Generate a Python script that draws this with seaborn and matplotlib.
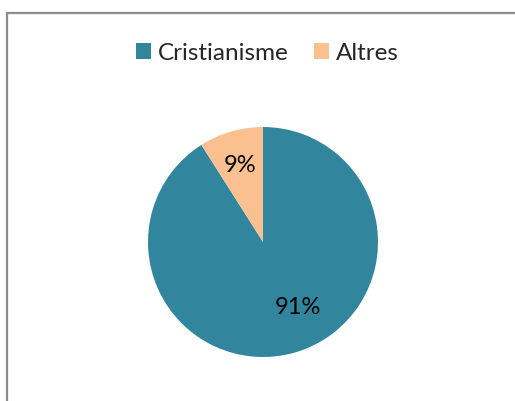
import matplotlib
matplotlib.use("Agg")
import matplotlib.pyplot as plt
import seaborn as sns
from matplotlib.patches import Rectangle

categories = ["Cristianisme", "Altres"]
values = [91, 9]
colors = ["#31859C", "#FAC090"]

sns.set_theme(style="white")
plt.rcParams['font.family'] = ['Lato', 'DejaVu Sans']

W, H = 515, 402
fig = plt.figure(figsize=(W / 100, H / 100), dpi=100)
fig.patch.set_facecolor("white")

# outer frame (extends beyond right and bottom)
fig.patches.append(Rectangle((6.5 / W, -0.1), 1.2, 1 - 14 / H + 0.1, transform=fig.transFigure,
                             fill=False, edgecolor="#8C8C8C", linewidth=1.6, figure=fig))

cx, cy, r = 263, 243, 115
ax = fig.add_axes([(cx - r) / W, (H - cy - r) / H, 2 * r / W, 2 * r / H])
wedges, texts, autotexts = ax.pie(values, colors=colors, startangle=90, counterclock=False,
                                  autopct=lambda p: f"{p:.0f}%", pctdistance=0.7,
                                  wedgeprops=dict(linewidth=0, edgecolor="none"),
                                  textprops=dict(fontsize=17, color="black"))
ax.set_xlim(-1, 1)
ax.set_ylim(-1, 1)
ax.set_aspect("auto")
ax.axis("off")
autotexts[0].set_position((0.30, -0.56))

leg = fig.legend(wedges, categories, loc="center", bbox_to_anchor=(267 / W, 1 - 54 / H),
                 ncol=2, frameon=False, fontsize=17.5, handlelength=0.65, handleheight=0.65,
                 handletextpad=0.25, columnspacing=1.05)

fig.savefig("out.png", dpi=100, facecolor="white")
